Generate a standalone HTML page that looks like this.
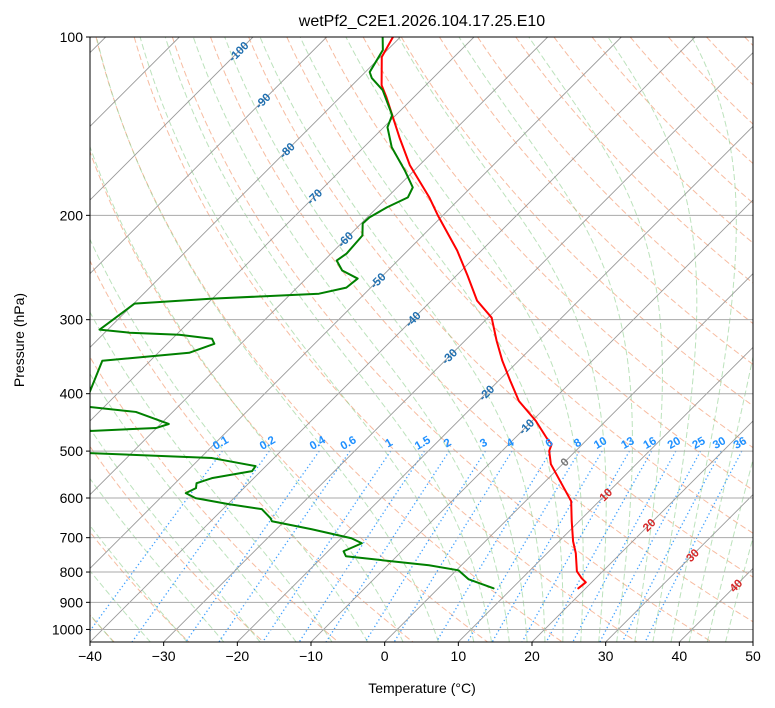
<!DOCTYPE html>
<html><head><meta charset="utf-8"><style>
html,body{margin:0;padding:0;background:#fff;}
svg{display:block;font-family:"Liberation Sans","DejaVu Sans",sans-serif;}
</style></head><body>
<svg id="chart" width="775" height="708" viewBox="0 0 775 708" xmlns="http://www.w3.org/2000/svg">
<defs><clipPath id="plotclip"><rect x="90" y="37" width="663" height="605"/></clipPath></defs>
<rect x="0" y="0" width="775" height="708" fill="#fff"/>
<text x="422" y="26" text-anchor="middle" font-size="16">wetPf2_C2E1.2026.104.17.25.E10</text>
<g id="bg" clip-path="url(#plotclip)"></g>
<g id="series" clip-path="url(#plotclip)"></g>
<g id="labels"></g>
<rect x="90" y="37" width="663" height="605" fill="none" stroke="#000" stroke-width="1"/>
<g id="axes"></g>
<text x="422" y="693" text-anchor="middle" font-size="14">Temperature (°C)</text>
<text x="24" y="340" text-anchor="middle" font-size="14" transform="rotate(-90 24 340)">Pressure (hPa)</text>
</svg>
<script>
// ---- data ----
const tempP = [100,108.1,120.6,126.4,147.7,164.6,186.5,200,229.3,252.7,278.6,297.7,325.6,352,380.5,411.5,444.6,475.2,486.4,499.7,525.8,568.3,607.4,656.7,709.8,743.7,797.8,819.7,832.6,852.3];
const tempT = [-81.0,-79.8,-76.0,-73.7,-66.5,-61.3,-54.3,-50.7,-43.3,-38.5,-33.8,-29.5,-25.7,-22.2,-18.4,-14.5,-9.5,-5.7,-4.2,-3.6,-1.6,2.6,6.2,9.0,11.9,13.9,16.5,18.1,19.2,19.0];
const dewP = [100,105.2,114.6,117.3,122.9,135.5,142,153.5,167.9,179.4,186.5,193.9,201.6,206.4,216.3,232,238.4,247.8,255.7,264.9,271.2,276.5,281.9,311.9,315.6,318.1,323.1,329.5,341.2,352,398.8,409.8,421.1,429.4,450,457.1,462.4,482.6,503.8,513.7,530,540.5,555.4,566.3,577.4,588.8,600.3,614.5,626.6,649,656.7,677.5,701.5,715.3,737.9,752.4,779.3,794.7,823,852.3];
const dewT = [-82.4,-80.6,-79.4,-78.3,-75.2,-70.5,-69.5,-66.2,-61.3,-57.9,-57.2,-58.7,-59.7,-59.8,-58.2,-57.9,-58.3,-56.2,-53.0,-53.3,-56.2,-70.0,-79.9,-81.1,-76.6,-69.6,-64.6,-63.6,-65.8,-76.5,-73.9,-75.7,-72.0,-65.0,-58.9,-60.1,-68.8,-71.4,-65.8,-48.4,-41.4,-41.2,-45.7,-47.1,-46.5,-47.2,-45.2,-39.9,-34.7,-32.3,-31.7,-25.2,-18.6,-16.5,-17.9,-16.9,-4.4,0.3,2.9,7.5];
const xTicks = [-40,-30,-20,-10,0,10,20,30,40,50];
const yTicks = [100,200,300,400,500,600,700,800,900,1000];
const mixRatios = [0.1,0.2,0.4,0.6,1,1.5,2,3,4,6,8,10,13,16,20,25,30,36];
const isoLabelT = [-100,-90,-80,-70,-60,-50,-40,-30,-20,-10,0,10,20,30,40];
const isoLabelP = [105.8,128.2,155.4,186.0,219.6,257.7,299.4,346.0,398.8,454.7,521.8,592.2,666.2,749.4,843.0];

// ---- axis functions ----
const L=90,R=753,T0=37,B=642,PXC=663/90,PSC=605/Math.log10(10.5);
function Y(p){return T0+PSC*Math.log10(p/100);}
function X(t,p){return L+(t+40)*PXC+(B-Y(p));}
const NS='http://www.w3.org/2000/svg';
function mk(tag,attrs,parent){const e=document.createElementNS(NS,tag);for(const k in attrs)e.setAttribute(k,attrs[k]);parent.appendChild(e);return e;}
const bg=document.getElementById('bg'),ser=document.getElementById('series'),lab=document.getElementById('labels'),ax=document.getElementById('axes');
function pathFrom(pts){return pts.map((q,i)=>(i?'L':'M')+q[0].toFixed(2)+' '+q[1].toFixed(2)).join(' ');}
const levels=[];for(let p=100;p<=1050;p+=5)levels.push(p);

// dry adiabats
for(let th=-40;th<=200;th+=10){
  const pts=levels.map(p=>[X((th+273.15)*Math.pow(p/1000,0.2857)-273.15,p),Y(p)]);
  const e=mk('path',{d:pathFrom(pts),fill:'none',stroke:'#f4a582','stroke-width':1,'stroke-dasharray':'6,3',opacity:0.75},bg);
  
  
}
// moist adiabats
function es(tc){return 6.112*Math.exp(17.67*tc/(tc+243.5));}
function dTdp(p,Tk){const Rd=287.04,Cp=1005.7,Lv=2.501e6,eps=0.622;const e=es(Tk-273.15);const rs=eps*e/(p-e);
  return (1/p)*(Rd*Tk+Lv*rs)/(Cp+(Lv*Lv*rs*eps)/(Rd*Tk*Tk));}
const moistT0=[];for(let t=-40;t<=10;t+=5)moistT0.push(t);for(let t=12.5;t<=45;t+=2.5)moistT0.push(t);
moistT0.forEach(t0=>{
  let pts=[];let Tk=t0+273.15;
  for(let p=1000;p>=100;p-=1){if(p%5===0)pts.push([X(Tk-273.15,p),Y(p)]);Tk-=dTdp(p,Tk)*1;}
  let down=[];Tk=t0+273.15;for(let p=1000;p<=1050;p+=1){Tk+=dTdp(p,Tk);if(p%5===0)down.push([X(Tk-273.15,p+1),Y(p+1)]);}
  pts=down.reverse().concat(pts);
  const e=mk('path',{d:pathFrom(pts),fill:'none',stroke:'#8fcf8f','stroke-width':1,'stroke-dasharray':'6,3',opacity:0.6},bg);
  
  
});
// mixing ratio lines
function tdFromW(w,p){const e=p*w/(622+w);const l=Math.log(e/6.112);return 243.5*l/(17.67-l);}
mixRatios.forEach(w=>{
  const pts=[];for(let p=500;p<=1050;p+=10)pts.push([X(tdFromW(w,p),p),Y(p)]);
  const e=mk('path',{d:pathFrom(pts),fill:'none',stroke:'#1e90ff','stroke-width':1.3,'stroke-dasharray':'1.3,2.6',opacity:0.85},bg);
  
  
  const lx=X(tdFromW(w,500),500),ly=Y(500)-5;
  const t=mk('text',{x:lx,y:ly,'font-size':11.5,'font-weight':'bold',fill:'#1e90ff','text-anchor':'middle',transform:`rotate(-30 ${lx} ${ly})`},lab);
  t.textContent=String(w);
  
  
});
// isotherms
for(let t=-160;t<=50;t+=10){
  const e=mk('line',{x1:X(t,1050),y1:Y(1050),x2:X(t,100),y2:Y(100),stroke:'#999','stroke-width':0.9},bg);
  
  
}
// isobars
yTicks.forEach(p=>{
  const e=mk('line',{x1:L,y1:Y(p),x2:R,y2:Y(p),stroke:'#aaa','stroke-width':1},bg);
  
  
});
// isotherm labels
isoLabelT.forEach((t,i)=>{
  const p=isoLabelP[i],lx=X(t,p),ly=Y(p)+4;
  const c=t<0?'#1f6fb0':(t===0?'#777':'#d62728');
  const e=mk('text',{x:lx,y:ly,'font-size':11.5,'font-weight':'bold',fill:c,'text-anchor':'middle',transform:`rotate(-45 ${lx} ${ly-4})`},lab);
  e.textContent=String(t);
  
  
});
// profiles
const tp=mk('path',{d:pathFrom(tempP.map((p,i)=>[X(tempT[i],p),Y(p)])),fill:'none',stroke:'#ff0000','stroke-width':2,'stroke-linejoin':'round','stroke-linecap':'round'},ser);


const dp=mk('path',{d:pathFrom(dewP.map((p,i)=>[X(dewT[i],p),Y(p)])),fill:'none',stroke:'#008000','stroke-width':2,'stroke-linejoin':'round','stroke-linecap':'round'},ser);


// ticks
xTicks.forEach(t=>{
  const x=L+(t+40)*PXC;
  const l=mk('line',{x1:x,y1:B,x2:x,y2:B+4,stroke:'#000'},ax);
  
  
  const e=mk('text',{x:x,y:B+19,'font-size':14,'text-anchor':'middle'},ax);
  e.textContent=t<0?'−'+Math.abs(t):String(t);
  
  
});
yTicks.forEach(p=>{
  const y=Y(p);
  const l=mk('line',{x1:L-4,y1:y,x2:L,y2:y,stroke:'#000'},ax);
  
  
  const e=mk('text',{x:L-7,y:y+5,'font-size':14,'text-anchor':'end'},ax);
  e.textContent=String(p);
  
  
});
</script>
</body></html>
